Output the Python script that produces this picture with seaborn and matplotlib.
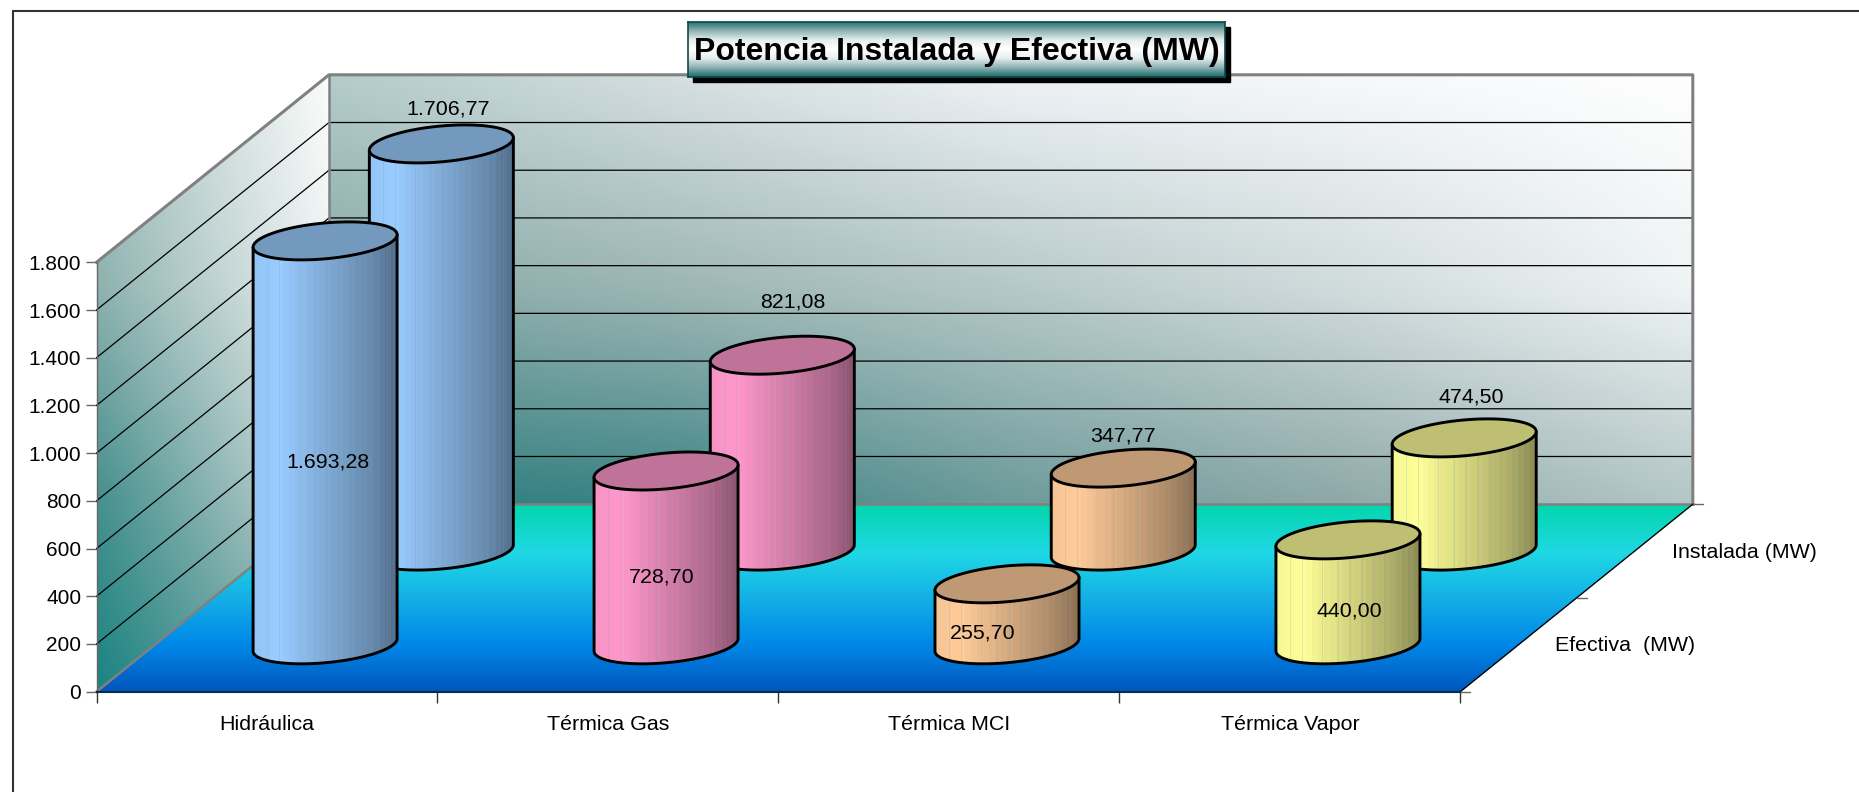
import numpy as np
import pandas as pd
import matplotlib
matplotlib.use('Agg')
import matplotlib.pyplot as plt
from matplotlib.lines import Line2D
from matplotlib.patches import Polygon, Rectangle
import seaborn as sns

# Data
categorias = ['Hidráulica', 'Térmica Gas', 'Térmica MCI', 'Térmica Vapor']
series = ['Instalada (MW)', 'Efectiva  (MW)']
instalada = [1706.77, 821.08, 347.77, 474.50]
efectiva = [1693.28, 728.70, 255.70, 440.00]
etiquetas_instalada = ['1.706,77', '821,08', '347,77', '474,50']
etiquetas_efectiva = ['1.693,28', '728,70', '255,70', '440,00']
y_ticks = [0, 200, 400, 600, 800, 1000, 1200, 1400, 1600, 1800]
y_labels = ['0', '200', '400', '600', '800', '1.000', '1.200', '1.400', '1.600', '1.800']
titulo = 'Potencia Instalada y Efectiva (MW)'

# Colours, one per category
colores = ['#99CCFF', '#FF99CC', '#FFCC99', '#FFFF99']

# Hand placed label offsets in pixels, (dx, dy) from the top of the cylinder or its middle
offset_instalada = [(7, 35), (10, 53), (0, 32), (7, 41)]
offset_efectiva = [(3, -19), (-4, -19), (-24, -19), (1, -19)]

W, H = 1859, 792
X0, X1, Y0, Y1 = 96.5, 1460.3, 691.7, 262.3  # front plane in pixels
PX_X = (X1 - X0) / 4
PX_Y = (Y0 - Y1) / 1800
DEPTH_X = 232.5 / PX_X  # full floor depth in data units
DEPTH_Y = 187.5 / PX_Y
RY = 19 / PX_Y
RHO = 0.33
FS = 15.4

sns.set_theme(style='white', font='Liberation Sans')
plt.rcParams['font.family'] = ['Liberation Sans', 'DejaVu Sans']

df = pd.DataFrame({
    'categoria': categorias * 2,
    'serie': [series[0]] * 4 + [series[1]] * 4,
    'potencia': instalada + efectiva,
})

fig = plt.figure(figsize=(W / 100, H / 100), dpi=100, facecolor='white')
ax = fig.add_axes([X0 / W, 1 - Y0 / H, (X1 - X0) / W, (Y0 - Y1) / H], facecolor='none')
ax.set_zorder(1)

bar_w = 144 / PX_X
sns.barplot(data=df, x='categoria', y='potencia', hue='serie', hue_order=series,
            dodge=False, width=bar_w, errorbar=None, legend=False, ax=ax)


def project(x, y, d):
    return x + DEPTH_X * d, y + DEPTH_Y * d


def fill_gradient(poly, rgb, z, interp='bilinear'):
    poly = np.array(poly)
    im = ax.imshow(rgb, extent=(poly[:, 0].min(), poly[:, 0].max(), poly[:, 1].min(), poly[:, 1].max()),
                   origin='upper', aspect='auto', zorder=z, interpolation=interp)
    im.set_clip_path(Polygon(poly, transform=ax.transData, fc='none', ec='none'))
    im.set_clip_box(fig.bbox)


def grid_gradient(rows, n_x=60, n_y=50):
    # rows go top to bottom, colours in each row left to right
    across = [sns.blend_palette(r, n_colors=n_x) for r in rows]
    cols = [sns.blend_palette(list(c), n_colors=n_y) for c in zip(*across)]
    return np.transpose(np.array(cols), (1, 0, 2))


xa, xb = -0.5, 3.5

# back wall
back = [project(xa, 0, 1), project(xb, 0, 1), project(xb, 1800, 1), project(xa, 1800, 1)]
fill_gradient(back, grid_gradient([
    ['#B4CCCA', '#D5DEE0', '#EDF1F5', '#F6F8FB', '#FEFEFE'],
    ['#86A9A7', '#9CB6B4', '#B5C8C7', '#D0DBDC', '#EEF3F4'],
    ['#2F7F80', '#3E8486', '#6E9B9B', '#8FA9A9', '#B4C6C6'],
]), 1)

# left wall
left = [project(xa, 0, 0), project(xa, 0, 1), project(xa, 1800, 1), project(xa, 1800, 0)]
fill_gradient(left, grid_gradient([
    ['#A9C5C3', '#FAFBFA'],
    ['#8FB3B0', '#EEF2F3'],
    ['#4B9290', '#CEDAD8'],
    ['#1B8583', '#90ACA9'],
]), 1.2)

# floor
floor = [project(xa, 0, 0), project(xb, 0, 0), project(xb, 0, 1), project(xa, 0, 1)]
fill_gradient(floor, grid_gradient([
    ['#04D6AE', '#04D6AE'], ['#20D8E5', '#20D8E5'], ['#14B0E5', '#14B0E5'],
    ['#0088E8', '#0088E8'], ['#0058BE', '#0058BE'],
]), 1.4)

# grid lines on back and left walls
for v in y_ticks[1:-1]:
    xs, ys = zip(project(xa, v, 0), project(xa, v, 1), project(xb, v, 1))
    ax.plot(xs, ys, color='black', lw=0.9, clip_on=False, zorder=1.6)

# wall borders
edge = dict(color='#808080', clip_on=False, zorder=1.8, solid_capstyle='projecting')
for path, lw in [((project(xa, 1800, 0), project(xa, 1800, 1), project(xb, 1800, 1), project(xb, 0, 1)), 2.2),
                 ((project(xa, 1800, 1), project(xa, 0, 1), project(xb, 0, 1)), 1.8),
                 ((project(xa, 0, 0), project(xa, 0, 1)), 1.8)]:
    xs, ys = zip(*path)
    ax.plot(xs, ys, lw=lw, **edge)

# right floor edge with depth ticks
xs, ys = zip(project(xb, 0, 0), project(xb, 0, 1))
ax.plot(xs, ys, color='black', lw=1, clip_on=False, zorder=2)
for d in [0, 0.5, 1]:
    px, py = project(xb, 0, d)
    ax.plot([px, px + 10 / PX_X], [py, py], color='#666666', lw=1, clip_on=False, zorder=2)

# series names on the depth axis
for serie, d in [(series[1], 0.25), (series[0], 0.75)]:
    px, py = project(xb, 0, d)
    ax.annotate(serie, (px, py), xytext=(37, -1), textcoords='offset pixels', ha='left', va='center',
                fontsize=FS, color='black', annotation_clip=False)

# where the thin lines of the rendered cylinder body fall, in pixels across its width
stripes = [14, 26, 46, 62, 74, 86, 98, 108, 118, 126, 134]


def cylinder(cx, v0, v1, rx, base, z):
    t = np.linspace(0, 2 * np.pi, 181)
    ex = rx * np.cos(t)
    ey = RY * (RHO * np.cos(t) + np.sqrt(1 - RHO ** 2) * np.sin(t))
    up = t <= np.pi
    low = t >= np.pi
    lower = np.column_stack([cx + ex[low], v0 + ey[low]])
    upper = np.column_stack([cx + ex[up], v1 + ey[up]])
    body = np.vstack([lower, upper])

    b = np.array(matplotlib.colors.to_rgb(base))
    bands = sns.blend_palette([b * f for f in (0.97, 1, 0.92, 0.84, 0.76, 0.68, 0.56)], n_colors=24)
    strip = np.repeat(np.array(bands), 6, axis=0)
    strip[stripes] = 0.78 * strip[stripes] + 0.22 * np.array(matplotlib.colors.to_rgb('#7799BB'))
    fill_gradient(body, strip[None, :, :], z, interp='nearest')

    ax.plot(np.r_[cx + ex[up][-1], lower[:, 0], cx + ex[0]], np.r_[v1 + ey[up][-1], lower[:, 1], v1 + ey[0]],
            color='black', lw=2.1, clip_on=False, zorder=z + 0.1, solid_joinstyle='round')
    ax.add_patch(Polygon(np.column_stack([cx + ex, v1 + ey]), closed=True, fc=b * 0.75, ec='black',
                         lw=2.1, clip_on=False, zorder=z + 0.2))


# seaborn lays the bars out, each is redrawn as a cylinder standing on its depth row
depths = [0.75, 0.25]
offsets = [offset_instalada, offset_efectiva]
labels = [etiquetas_instalada, etiquetas_efectiva]
for j, container in enumerate(ax.containers):
    for i, bar in enumerate(container):
        cx = bar.get_x() + bar.get_width() / 2
        v = bar.get_height()
        px, v0 = project(cx, 0, depths[j])
        cylinder(px, v0, v0 + v, bar.get_width() / 2, colores[i], 5 + j + 0.5 * i)
        dx, dy = offsets[j][i]
        anchor = v0 + v if j == 0 else v0 + v / 2
        ax.annotate(labels[j][i], (px, anchor), xytext=(dx, dy), textcoords='offset pixels',
                    ha='center', va='center', fontsize=FS, color='black',
                    annotation_clip=False, zorder=20)
        bar.set_visible(False)

# axes
ax.set_xlim(xa, xb)
ax.set_ylim(0, 1800)
ax.set_xlabel('')
ax.set_ylabel('')
ax.set_xticks([-0.5, 0.5, 1.5, 2.5, 3.5], labels=[])
ax.set_xticks(range(4), labels=categorias, minor=True)
ax.set_yticks(y_ticks, labels=y_labels)
ax.tick_params(axis='x', which='major', length=8, width=1, color='#333333', bottom=True)
ax.tick_params(axis='x', which='minor', length=0, pad=16.5, labelsize=FS, labelcolor='black', bottom=False)
ax.tick_params(axis='y', length=8, width=1, color='#666666', pad=3, labelsize=15, labelcolor='black', left=True)
sns.despine(ax=ax, top=True, right=True)
ax.spines['left'].set_color('#666666')
ax.spines['left'].set_linewidth(1)
ax.spines['bottom'].set_color('#0A2A4A')
ax.spines['bottom'].set_linewidth(1.5)

# outer frame, only top and left are inside the picture
for xs, ys in [([12.6, W], [11, 11]), ([12.6, 12.6], [11, H])]:
    fig.add_artist(Line2D(np.array(xs) / W, 1 - np.array(ys) / H, color='#333333', lw=1.5, zorder=0.5))

# title box with its shadow
bx0, bx1, by0, by1 = 688, 1225, 21.7, 77
fig.add_artist(Rectangle(((bx0 + 5) / W, 1 - (by1 + 5) / H), (bx1 - bx0) / W, (by1 - by0) / H,
                         transform=fig.transFigure, fc='black', ec='black', zorder=5))
ax_t = fig.add_axes([bx0 / W, 1 - by1 / H, (bx1 - bx0) / W, (by1 - by0) / H])
ax_t.set_zorder(10)
ramp = sns.blend_palette(['#1F6F70', '#8FB2B2', '#E5EEEE', '#FFFFFF', '#E5EEEE', '#8FB2B2', '#1F6F70'], n_colors=56)
ax_t.imshow(np.array(ramp)[:, None, :], aspect='auto', interpolation='bilinear')
ax_t.set_xticks([])
ax_t.set_yticks([])
for s in ax_t.spines.values():
    s.set_color('#0A4A4A')
    s.set_linewidth(1.2)
    s.set_visible(True)
ax_t.text(0.5, 0.46, titulo, transform=ax_t.transAxes, ha='center', va='center',
          fontsize=23, fontweight='bold', color='black')

fig.savefig('out.png', dpi=100, facecolor='white')
